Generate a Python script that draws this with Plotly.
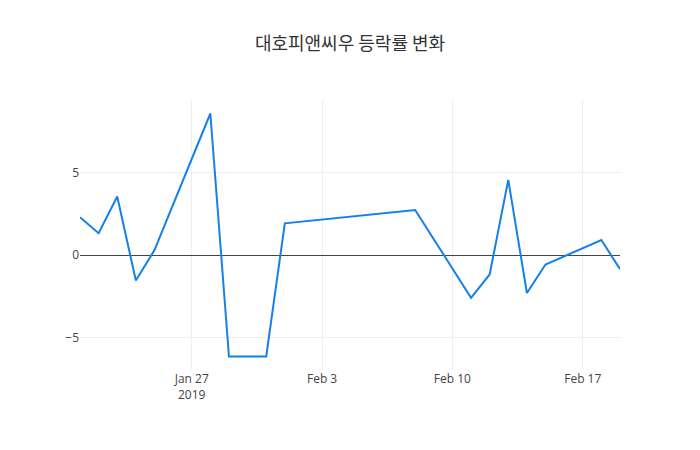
import plotly.graph_objects as go

dates = ["2019-01-21", "2019-01-22", "2019-01-23", "2019-01-24", "2019-01-25",
         "2019-01-28", "2019-01-29", "2019-01-31", "2019-02-01", "2019-02-08",
         "2019-02-11", "2019-02-12", "2019-02-13", "2019-02-14", "2019-02-15",
         "2019-02-18", "2019-02-19"]
changes = [2.29, 1.32, 3.54, -1.54, 0.30,
           8.56, -6.13, -6.13, 1.92, 2.73,
           -2.58, -1.17, 4.55, -2.29, -0.57,
           0.91, -0.85]
title_text = "대호피앤씨우 등락률 변화"

fig = go.Figure()
fig.add_trace(go.Scatter(x=dates, y=changes, mode="lines",
                         line=dict(color="#1580e8", width=2)))
fig.update_layout(
    template="plotly_white",
    width=700, height=450,
    title=dict(text=title_text, x=0.5, xanchor="center",
               font=dict(family="Noto Sans CJK KR, Open Sans, sans-serif", size=18, color="#333")),
    font=dict(family="Open Sans, Noto Sans CJK KR, sans-serif", size=12, color="#444"),
    showlegend=False,
    margin=dict(l=80, r=80, t=100, b=80),
)
fig.update_yaxes(zeroline=True, zerolinecolor="#444", zerolinewidth=1,
                 tickvals=[-5, 0, 5], ticktext=["−5", "0", "5"],
                 showgrid=True, gridcolor="#eeeeee")
fig.update_xaxes(showgrid=True, gridcolor="#eeeeee")
fig.write_html("out.html")
